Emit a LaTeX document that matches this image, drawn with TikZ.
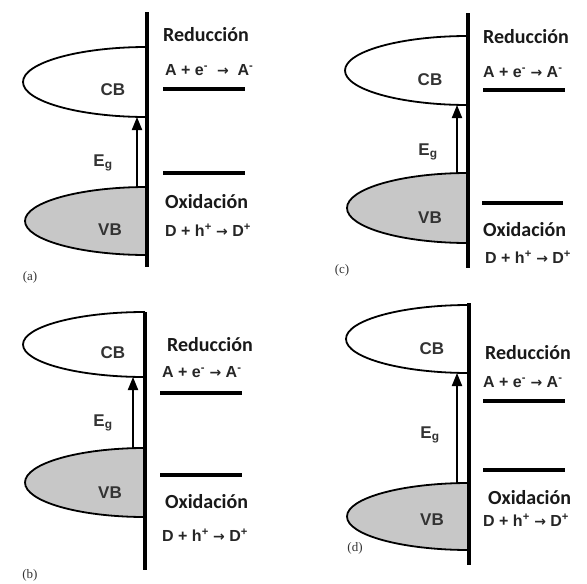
\documentclass[tikz,border=0pt]{standalone}
\usepackage{fontspec}
\setmainfont{Liberation Sans}
\newfontfamily\calibri{Carlito}
\newfontfamily\serif{Liberation Serif}
\newfontfamily\dejavu{DejaVu Sans}
\usetikzlibrary{arrows.meta}
\tikzset{
  bar/.style={line width=4pt},
  level/.style={line width=3.5pt},
  cband/.style={draw, line width=1.8pt, fill=white},
  vband/.style={draw, line width=1.8pt, fill=black!22},
  gap/.style={-{Triangle[width=10pt,length=13pt]}, line width=2pt},
  bandlabel/.style={font=\fontsize{17}{19}\selectfont\bfseries, text=black!80, inner sep=0pt},
  process/.style={font=\calibri\fontsize{20}{22}\selectfont\bfseries, text=black!90, anchor=west, inner sep=0pt},
  reaction/.style={font=\fontsize{16}{18}\selectfont\bfseries, text=black!85, anchor=west, inner sep=0pt},
  panel/.style={font=\serif\fontsize{13}{14}\selectfont, text=black!80, inner sep=0pt}
}
% half of an ellipse, cut by the surface: style, x of surface, centre y, half width, half height
\newcommand{\halfband}[5]{\draw[#1] ({#2},{#3-#5}) .. controls ({#2-0.55*#4},{#3-#5}) and ({#2-#4},{#3-0.55*#5}) .. ({#2-#4},{#3}) .. controls ({#2-#4},{#3+0.55*#5}) and ({#2-0.55*#4},{#3+#5}) .. ({#2},{#3+#5});}
\newcommand{\tto}{{\dejavu\fontsize{14}{16}\selectfont →}}
\newcommand{\eqA}{A + e\textsuperscript{-} \tto{} A\textsuperscript{-}}
\newcommand{\eqD}{D + h\textsuperscript{+} \tto{} D\textsuperscript{+}}

\begin{document}
\begin{tikzpicture}[x=1pt, y=-1pt]
\useasboundingbox (0,0) rectangle (587,584);
% (a)
\halfband{cband}{147}{82}{124}{35}
\halfband{vband}{147}{221}{122}{34}
\coordinate (a-vb) at (137,187);
\coordinate (a-cb) at (137,117);
\draw[gap] (a-vb) -- (a-cb);
\draw[bar] (147,12) -- (147,267);
\node[bandlabel] (a-cbl) at (113,90) {CB};
\node[bandlabel] (a-eg) at (103,163) {E\textsubscript{g}};
\node[bandlabel] (a-vbl) at (110,230) {VB};
\node[process] (a-red) at (163,35) {Reducción};
\node[reaction] (a-eqa) at (165,70) {A + e\textsuperscript{-}\; \tto{}\; A\textsuperscript{-}};
\draw[level] (163,89) -- (245,89);
\draw[level] (163,173) -- (245,173);
\node[process] (a-ox) at (165,202) {Oxidación};
\node[reaction] (a-eqd) at (165,230) {\eqD};
\node[panel] (a-lab) at (30,277) {(a)};
% (b)
\halfband{cband}{145}{344.5}{122}{32.5}
\halfband{vband}{145}{482.5}{120}{34.5}
\coordinate (b-vb) at (133,448);
\coordinate (b-cb) at (133,377);
\draw[gap] (b-vb) -- (b-cb);
\draw[bar] (145,312) -- (145,570);
\node[bandlabel] (b-cbl) at (113,353) {CB};
\node[bandlabel] (b-eg) at (103,423) {E\textsubscript{g}};
\node[bandlabel] (b-vbl) at (110,493) {VB};
\node[process] (b-red) at (167,345) {Reducción};
\node[reaction] (b-eqa) at (162,372) {\eqA};
\draw[level] (160,393) -- (242,393);
\draw[level] (160,475) -- (242,475);
\node[process] (b-ox) at (165,502) {Oxidación};
\node[reaction] (b-eqd) at (162,535) {\eqD};
\node[panel] (b-lab) at (30,575) {(b)};
% (c)
\halfband{cband}{468}{70.5}{123}{34.5}
\halfband{vband}{468}{208}{121}{35}
\coordinate (c-vb) at (457,173);
\coordinate (c-cb) at (457,105);
\draw[gap] (c-vb) -- (c-cb);
\draw[bar] (468,13) -- (468,268);
\node[bandlabel] (c-cbl) at (430,80) {CB};
\node[bandlabel] (c-eg) at (428,152) {E\textsubscript{g}};
\node[bandlabel] (c-vbl) at (430,218) {VB};
\node[process] (c-red) at (483,37) {Reducción};
\node[reaction] (c-eqa) at (483,72) {\eqA};
\draw[level] (483,90) -- (565,90);
\draw[level] (482,203) -- (563,203);
\node[process] (c-ox) at (483,230) {Oxidación};
\node[reaction] (c-eqd) at (485,257) {\eqD};
\node[panel] (c-lab) at (342,270) {(c)};
% (d)
\halfband{cband}{469}{339}{123}{34}
\halfband{vband}{469}{516.5}{122}{33.5}
\coordinate (d-vb) at (457,483);
\coordinate (d-cb) at (457,373);
\draw[gap] (d-vb) -- (d-cb);
\draw[bar] (469,303) -- (469,565);
\node[bandlabel] (d-cbl) at (432,349) {CB};
\node[bandlabel] (d-eg) at (430,435) {E\textsubscript{g}};
\node[bandlabel] (d-vbl) at (432,520) {VB};
\node[process] (d-red) at (485,353) {Reducción};
\node[reaction] (d-eqa) at (483,382) {\eqA};
\draw[level] (483,401) -- (565,401);
\draw[level] (483,470) -- (565,470);
\node[process] (d-ox) at (488,498) {Oxidación};
\node[reaction] (d-eqd) at (483,520) {\eqD};
\node[panel] (d-lab) at (355,548) {(d)};
\end{tikzpicture}
\end{document}
